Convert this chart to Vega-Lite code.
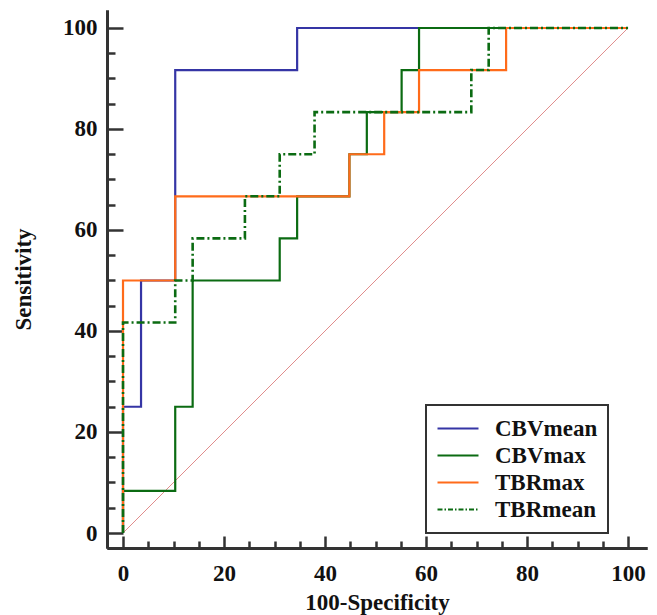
{
  "$schema": "https://vega.github.io/schema/vega-lite/v6.json",
  "width": 540,
  "height": 538,
  "autosize": {"type": "none"},
  "padding": {"left": 107, "top": 10, "right": 10, "bottom": 67},
  "background": "white",
  "config": {
    "view": {"stroke": null},
    "font": "Liberation Serif",
    "axis": {
      "domainColor": "#333333",
      "domainWidth": 3,
      "tickColor": "#333333",
      "tickWidth": 2.5,
      "grid": false,
      "labelFont": "Liberation Serif",
      "labelFontWeight": "bold",
      "labelFontSize": 23,
      "labelColor": "#111111",
      "titleFont": "Liberation Serif",
      "titleFontWeight": "bold",
      "titleFontSize": 23,
      "titleColor": "#111111"
    }
  },
  "resolve": {"axis": {"x": "independent", "y": "independent"}},
  "datasets": {
    "roc": [
      {"test": "CBVmean", "i": 0, "fpr": 0, "tpr": 0},
      {"test": "CBVmean", "i": 1, "fpr": 0, "tpr": 25},
      {"test": "CBVmean", "i": 2, "fpr": 3.57, "tpr": 50},
      {"test": "CBVmean", "i": 3, "fpr": 10.34, "tpr": 91.67},
      {"test": "CBVmean", "i": 4, "fpr": 34.48, "tpr": 100},
      {"test": "CBVmean", "i": 5, "fpr": 100, "tpr": 100},
      {"test": "CBVmax", "i": 0, "fpr": 0, "tpr": 0},
      {"test": "CBVmax", "i": 1, "fpr": 0, "tpr": 8.33},
      {"test": "CBVmax", "i": 2, "fpr": 10.34, "tpr": 25},
      {"test": "CBVmax", "i": 3, "fpr": 13.79, "tpr": 50},
      {"test": "CBVmax", "i": 4, "fpr": 31.03, "tpr": 58.33},
      {"test": "CBVmax", "i": 5, "fpr": 34.48, "tpr": 66.67},
      {"test": "CBVmax", "i": 6, "fpr": 44.83, "tpr": 75},
      {"test": "CBVmax", "i": 7, "fpr": 48.28, "tpr": 83.33},
      {"test": "CBVmax", "i": 8, "fpr": 55.17, "tpr": 91.67},
      {"test": "CBVmax", "i": 9, "fpr": 58.62, "tpr": 100},
      {"test": "CBVmax", "i": 10, "fpr": 100, "tpr": 100},
      {"test": "TBRmax", "i": 0, "fpr": 0, "tpr": 0},
      {"test": "TBRmax", "i": 1, "fpr": 0, "tpr": 50},
      {"test": "TBRmax", "i": 2, "fpr": 10.34, "tpr": 66.67},
      {"test": "TBRmax", "i": 3, "fpr": 44.83, "tpr": 75},
      {"test": "TBRmax", "i": 4, "fpr": 51.72, "tpr": 83.33},
      {"test": "TBRmax", "i": 5, "fpr": 58.62, "tpr": 91.67},
      {"test": "TBRmax", "i": 6, "fpr": 75.86, "tpr": 100},
      {"test": "TBRmax", "i": 7, "fpr": 100, "tpr": 100},
      {"test": "TBRmean", "i": 0, "fpr": 0, "tpr": 0},
      {"test": "TBRmean", "i": 1, "fpr": 0, "tpr": 41.67},
      {"test": "TBRmean", "i": 2, "fpr": 10.34, "tpr": 50},
      {"test": "TBRmean", "i": 3, "fpr": 13.79, "tpr": 58.33},
      {"test": "TBRmean", "i": 4, "fpr": 24.14, "tpr": 66.67},
      {"test": "TBRmean", "i": 5, "fpr": 31.03, "tpr": 75},
      {"test": "TBRmean", "i": 6, "fpr": 37.93, "tpr": 83.33},
      {"test": "TBRmean", "i": 7, "fpr": 68.97, "tpr": 91.67},
      {"test": "TBRmean", "i": 8, "fpr": 72.41, "tpr": 100},
      {"test": "TBRmean", "i": 9, "fpr": 100, "tpr": 100}
    ],
    "diag": [
      {"fpr": 0, "tpr": 0},
      {"fpr": 100, "tpr": 100}
    ]
  },
  "layer": [
    {
      "data": {"name": "diag"},
      "mark": {"type": "line", "color": "#e08c8c", "strokeWidth": 1},
      "encoding": {
        "x": {
          "field": "fpr", "type": "quantitative",
          "scale": {"domain": [-3.17, 103.76], "nice": false, "zero": false},
          "axis": {
            "orient": "bottom",
            "values": [5, 10, 15, 25, 30, 35, 45, 50, 55, 65, 70, 75, 85, 90, 95],
            "tickSize": -7, "labels": false, "title": null, "domain": true
          }
        },
        "y": {
          "field": "tpr", "type": "quantitative",
          "scale": {"domain": [-2.97, 103.56], "nice": false, "zero": false},
          "axis": {
            "orient": "left",
            "values": [5, 10, 15, 25, 30, 35, 45, 50, 55, 65, 70, 75, 85, 90, 95],
            "tickSize": -8, "labels": false, "title": null, "domain": true
          }
        }
      }
    },
    {
      "data": {"name": "roc"},
      "transform": [{"filter": "datum.test !== 'TBRmean'"}],
      "mark": {"type": "line", "interpolate": "step-after", "strokeWidth": 2.2},
      "encoding": {
        "x": {
          "field": "fpr", "type": "quantitative",
          "axis": {
            "orient": "bottom",
            "values": [0, 20, 40, 60, 80, 100],
            "tickSize": -12, "labelPadding": 26,
            "title": "100-Specificity", "titlePadding": 6
          }
        },
        "y": {
          "field": "tpr", "type": "quantitative",
          "axis": {
            "orient": "left",
            "values": [0, 20, 40, 60, 80, 100],
            "tickSize": -16, "labelPadding": 26,
            "title": "Sensitivity", "titlePadding": 27
          }
        },
        "order": {"field": "i", "type": "quantitative"},
        "color": {
          "field": "test", "type": "nominal",
          "scale": {
            "domain": ["CBVmean", "CBVmax", "TBRmax", "TBRmean"],
            "range": ["#3535a5", "#0b6b12", "#ff6b1a", "#0b6b12"]
          },
          "legend": {
            "title": null,
            "orient": "none",
            "legendX": 319,
            "legendY": 395,
            "strokeColor": "#333333",
            "fillColor": "white",
            "padding": 10,
            "symbolType": "stroke",
            "symbolSize": 1681,
            "symbolStrokeWidth": 2.2,
            "clipHeight": 27,
            "rowPadding": 0,
            "labelOffset": 15,
            "labelFont": "Liberation Serif",
            "labelFontWeight": "bold",
            "labelFontSize": 23,
            "labelColor": "#111111",
            "labelLimit": 300,
            "encode": {
              "legend": {"update": {"strokeWidth": {"value": 2}}},
              "symbols": {
                "update": {
                  "strokeDash": {"signal": "datum.label === 'TBRmean' ? [5, 2, 1.5, 2] : [1, 0]"}
                }
              }
            }
          }
        }
      }
    },
    {
      "data": {"name": "roc"},
      "transform": [{"filter": "datum.test === 'TBRmean'"}],
      "mark": {"type": "line", "interpolate": "step-after", "strokeWidth": 2.6, "strokeDash": [8, 3, 2, 3]},
      "encoding": {
        "x": {"field": "fpr", "type": "quantitative", "axis": null},
        "y": {"field": "tpr", "type": "quantitative", "axis": null},
        "order": {"field": "i", "type": "quantitative"},
        "color": {"field": "test", "type": "nominal"}
      }
    }
  ]
}
